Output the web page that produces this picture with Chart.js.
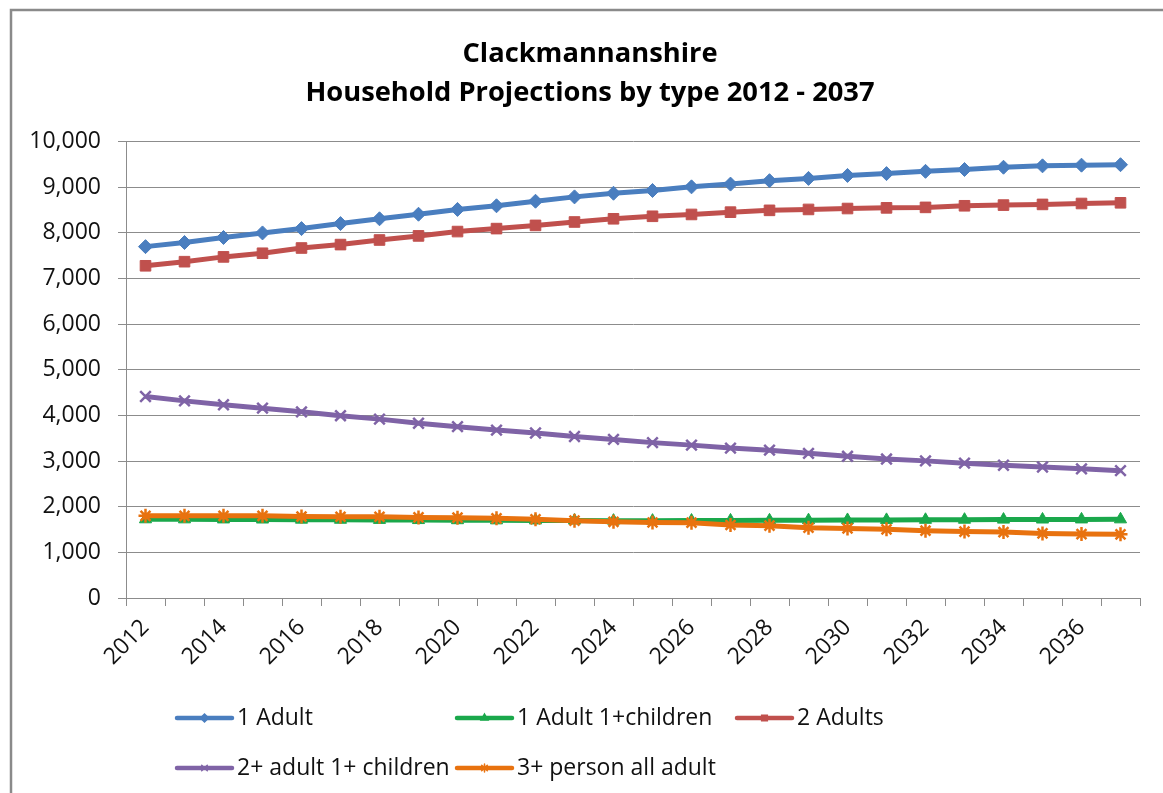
<!DOCTYPE html>
<html>
<head>
<meta charset="utf-8">
<title>Clackmannanshire household projections</title>
<script src="https://cdn.jsdelivr.net/npm/chart.js@4/dist/chart.umd.min.js"></script>
<style>
    html, body { margin: 0; padding: 0; background: #fff; }
    #wrap { position: relative; width: 1163px; height: 793px; }
</style>
</head>
<body>
<div id="wrap"><canvas id="householdChart"></canvas></div>
<script>
const YEARS = [
    '2012', '2013', '2014', '2015', '2016', '2017', '2018', '2019', '2020',
    '2021', '2022', '2023', '2024', '2025', '2026', '2027', '2028', '2029',
    '2030', '2031', '2032', '2033', '2034', '2035', '2036', '2037',
];

const ONE_ADULT = [
    7700, 7790, 7900, 8000, 8095, 8205, 8310, 8410, 8515, 8595, 8695, 8790, 8870,
    8930, 9010, 9070, 9145, 9195, 9260, 9300, 9350, 9390, 9440, 9470, 9485, 9495,
];
const ONE_ADULT_CHILDREN = [
    1725, 1724, 1722, 1720, 1717, 1715, 1712, 1708, 1705, 1702, 1700, 1697, 1695,
    1695, 1697, 1700, 1702, 1705, 1710, 1712, 1714, 1716, 1718, 1720, 1722, 1724,
];
const TWO_ADULTS = [
    7280, 7370, 7475, 7555, 7670, 7745, 7845, 7935, 8030, 8095, 8165, 8240, 8310,
    8365, 8405, 8455, 8495, 8515, 8535, 8550, 8560, 8595, 8610, 8625, 8645, 8660,
];
const TWO_ADULT_CHILDREN = [
    4415, 4320, 4235, 4160, 4080, 3995, 3920, 3830, 3755, 3680, 3615, 3540, 3475,
    3405, 3350, 3285, 3240, 3170, 3105, 3045, 3005, 2955, 2910, 2870, 2830, 2790,
];
const THREE_PLUS_ADULT = [
    1800, 1800, 1800, 1800, 1785, 1780, 1780, 1766, 1760, 1745, 1725, 1695, 1670,
    1655, 1650, 1600, 1585, 1540, 1525, 1505, 1475, 1455, 1445, 1415, 1400, 1395,
];

const FONT_FAMILY = '"Open Sans", "DejaVu Sans", sans-serif';
const TEXT_COLOR = '#111';
const GRID_COLOR = '#8c8c8c';

const SERIES = [
    { label: '1 Adult',              data: ONE_ADULT,          color: '#4a7ebf', style: 'rectRot',  radius: 7,   border: 1 },
    { label: '1 Adult 1+children',   data: ONE_ADULT_CHILDREN, color: '#1aa84b', style: 'triangle', radius: 7,   border: 1 },
    { label: '2 Adults',             data: TWO_ADULTS,         color: '#c0504d', style: 'rect',     radius: 7.5, border: 1 },
    { label: '2+ adult 1+ children', data: TWO_ADULT_CHILDREN, color: '#7f63a6', style: 'crossRot', radius: 7.5, border: 2.5 },
    { label: '3+ person all adult',  data: THREE_PLUS_ADULT,   color: '#e8720f', style: 'star',     radius: 7,   border: 2.5 },
];

// Excel-style legend: fixed columns, two rows below the axis
const LEGEND = { cols: [177, 457, 737], rows: [718, 768], sample: 55, gap: 5, markerRadius: 4 };

const chartFrame = {
    id: 'chartFrame',
    beforeDraw(chart) {
        const { ctx } = chart;
        ctx.save();
        ctx.fillStyle = '#fff';
        ctx.fillRect(0, 0, chart.width, chart.height);
        ctx.strokeStyle = '#8a8a8a';
        ctx.lineWidth = 2.5;
        ctx.strokeRect(11, 10, chart.width + 20, chart.height + 20);
        ctx.restore();
    },
};

const excelLegend = {
    id: 'excelLegend',
    afterDraw(chart) {
        const { ctx } = chart;
        const drawPoint = Chart.helpers && Chart.helpers.drawPoint;
        ctx.save();
        chart.data.datasets.forEach((ds, i) => {
            const x = LEGEND.cols[i % 3];
            const y = LEGEND.rows[Math.floor(i / 3)];
            ctx.strokeStyle = ds.borderColor;
            ctx.lineWidth = 4.5;
            ctx.lineCap = 'round';
            ctx.beginPath();
            ctx.moveTo(x, y);
            ctx.lineTo(x + LEGEND.sample, y);
            ctx.stroke();
            if (drawPoint) {
                ctx.fillStyle = ds.pointBackgroundColor;
                ctx.strokeStyle = ds.pointBorderColor;
                ctx.lineWidth = 1.5;
                drawPoint(ctx, { pointStyle: ds.pointStyle, radius: LEGEND.markerRadius, borderWidth: 1.5, rotation: 0 },
                    x + LEGEND.sample / 2, y);
            }
            ctx.fillStyle = TEXT_COLOR;
            ctx.font = `23px ${FONT_FAMILY}`;
            ctx.textAlign = 'left';
            ctx.textBaseline = 'middle';
            ctx.fillText(ds.label, x + LEGEND.sample + LEGEND.gap, y);
        });
        ctx.restore();
    },
};

function buildDatasets() {
    return SERIES.map((s, i) => ({
        label:                s.label,
        data:                 s.data,
        yAxisID:              'y',
        borderColor:          s.color,
        backgroundColor:      s.color,
        borderWidth:          5,
        tension:              0,
        pointStyle:           s.style,
        pointRadius:          s.radius,
        pointHoverRadius:     s.radius,
        pointBorderWidth:     s.border,
        pointBackgroundColor: s.color,
        pointBorderColor:     s.color,
        order:                SERIES.length - i,
    }));
}

function createChart() {
    const canvas = document.getElementById('householdChart');
    Chart.defaults.font.family = FONT_FAMILY;
    Chart.defaults.color = TEXT_COLOR;

    return new Chart(canvas.getContext('2d'), {
        type: 'line',
        data: { labels: YEARS, datasets: buildDatasets() },
        options: {
            responsive: true,
            maintainAspectRatio: false,
            animation: false,
            layout: { padding: { left: 20, right: 3, top: 0, bottom: 0 } },
            scales: {
                x: {
                    offset: true,
                    grid: { offset: true, drawOnChartArea: false, drawTicks: true, tickLength: 8, color: GRID_COLOR },
                    border: { display: true, color: GRID_COLOR, width: 1 },
                    ticks: {
                        autoSkip: false,
                        maxRotation: 45,
                        minRotation: 45,
                        padding: 8,
                        font: { size: 23 },
                        callback: (value, index) => index % 2 === 0 ? YEARS[index] : '',
                    },
                    afterFit: scale => { scale.height = 195; },
                },
                y: {
                    min: 0,
                    max: 10000,
                    grid: { color: GRID_COLOR, tickLength: 8, lineWidth: 1 },
                    border: { display: true, color: GRID_COLOR, width: 1 },
                    ticks: {
                        stepSize: 1000,
                        padding: 17,
                        font: { size: 23 },
                        callback: value => value.toLocaleString('en-US'),
                    },
                    afterFit: scale => { scale.width = 106; },
                },
                // empty right-hand strip so the plot ends where the title stays centred on the frame
                spacer: {
                    position: 'right',
                    grid: { display: false },
                    border: { display: false },
                    ticks: { display: false },
                    afterFit: scale => { scale.width = 20; },
                },
            },
            plugins: {
                legend: { display: false },
                tooltip: { enabled: false },
                title: {
                    display: true,
                    text: ['Clackmannanshire', 'Household Projections by type 2012 - 2037'],
                    color: '#000',
                    font: { size: 27.3, weight: 'bold', lineHeight: 1.45 },
                    padding: { top: 34, bottom: 28.5 },
                },
            },
        },
        plugins: [chartFrame, excelLegend],
    });
}

document.addEventListener('DOMContentLoaded', createChart);
</script>
</body>
</html>
